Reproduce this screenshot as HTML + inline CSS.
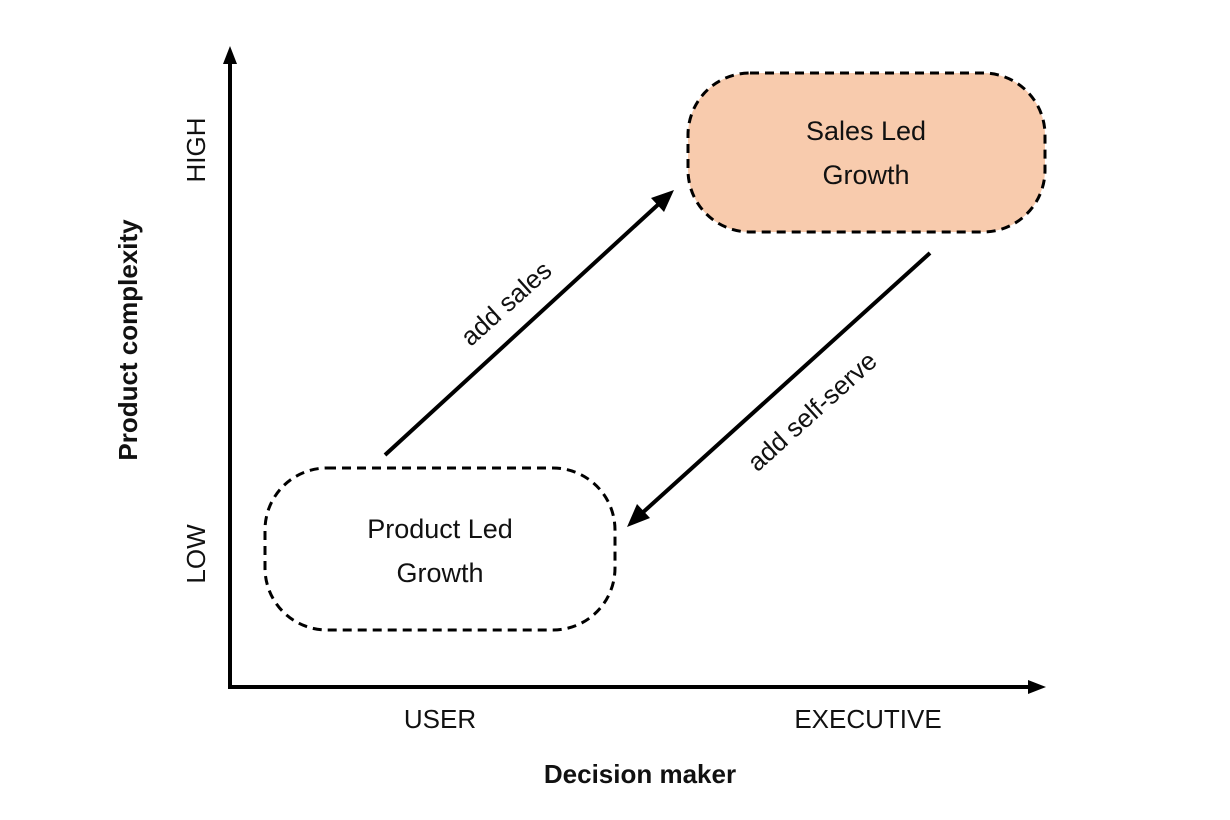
<!DOCTYPE html>
<html><head><meta charset="utf-8"><style>html,body{margin:0;padding:0;background:#fff}svg{display:block}</style></head>
<body>
<svg width="1230" height="820" viewBox="0 0 1230 820" xmlns="http://www.w3.org/2000/svg" font-family="'Liberation Sans', sans-serif">
<defs>
<marker id="ah" markerWidth="10" markerHeight="10" refX="8" refY="5" orient="auto" markerUnits="userSpaceOnUse">
<path d="M0,0 L10,5 L0,10 z" fill="#000"/>
</marker>
<marker id="ah2" markerWidth="16" markerHeight="14" refX="14" refY="7" orient="auto" markerUnits="userSpaceOnUse">
<path d="M0,0 L16,7 L0,14 z" fill="#000"/>
</marker>
</defs>
<!-- axes -->
<line x1="230" y1="688" x2="230" y2="60" stroke="#000" stroke-width="4"/>
<path d="M230,46 L223,64 L237,64 z" fill="#000"/>
<line x1="228" y1="687" x2="1032" y2="687" stroke="#000" stroke-width="4"/>
<path d="M1046,687 L1028,680 L1028,694 z" fill="#000"/>
<!-- boxes -->
<rect x="688" y="73" width="357" height="159" rx="62" fill="#f8cbad" stroke="#000" stroke-width="3" stroke-dasharray="9,6"/>
<rect x="265" y="468" width="350" height="162" rx="62" fill="#fff" stroke="#000" stroke-width="3" stroke-dasharray="9,6"/>
<text x="866" y="140" font-size="27" text-anchor="middle" fill="#111">Sales Led</text>
<text x="866" y="184" font-size="27" text-anchor="middle" fill="#111">Growth</text>
<text x="440" y="538" font-size="27" text-anchor="middle" fill="#111">Product Led</text>
<text x="440" y="582" font-size="27" text-anchor="middle" fill="#111">Growth</text>
<!-- arrows -->
<line x1="385" y1="455" x2="662" y2="201" stroke="#000" stroke-width="4"/>
<path d="M674,190 L651,198 L664,212 z" fill="#000"/>
<line x1="930" y1="253" x2="640" y2="515" stroke="#000" stroke-width="4"/>
<path d="M627,527 L650,518 L637,504 z" fill="#000"/>
<text transform="translate(512,310) rotate(-42)" font-size="26" text-anchor="middle" fill="#111">add sales</text>
<text transform="translate(818,418) rotate(-42)" font-size="26" text-anchor="middle" fill="#111">add self-serve</text>
<!-- axis labels -->
<text transform="translate(205,150) rotate(-90)" font-size="26" text-anchor="middle" fill="#111">HIGH</text>
<text transform="translate(205,554) rotate(-90)" font-size="26" text-anchor="middle" fill="#111">LOW</text>
<text transform="translate(137,340) rotate(-90)" font-size="26" font-weight="bold" text-anchor="middle" fill="#111">Product complexity</text>
<text x="440" y="728" font-size="26" text-anchor="middle" fill="#111">USER</text>
<text x="868" y="728" font-size="26" text-anchor="middle" fill="#111">EXECUTIVE</text>
<text x="640" y="783" font-size="26" font-weight="bold" text-anchor="middle" fill="#111">Decision maker</text>
</svg>
</body></html>
